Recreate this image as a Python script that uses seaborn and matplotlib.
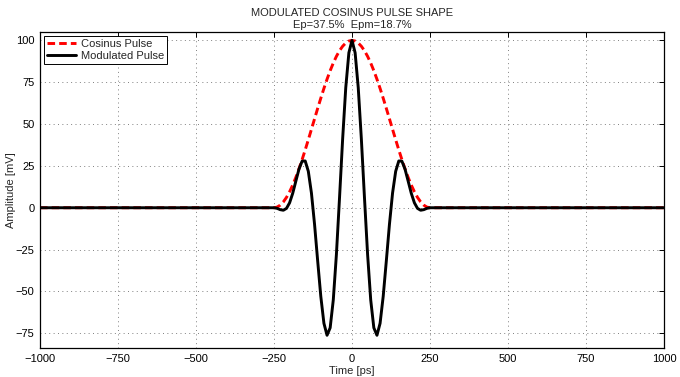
import matplotlib
matplotlib.use("Agg")
import matplotlib.pyplot as plt
import seaborn as sns
import pandas as pd

# Time axis [ps]
time_ps = [-1000, -250, -240, -230, -220, -210, -200, -190, -180, -170, -160,
           -150, -140, -130, -120, -110, -100, -90, -80, -70, -60,
           -50, -40, -30, -20, -10, 0, 10, 20, 30, 40,
           50, 60, 70, 80, 90, 100, 110, 120, 130, 140,
           150, 160, 170, 180, 190, 200, 210, 220, 230, 240, 250, 1000]

# Cosinus pulse amplitude [mV]
cosinus_pulse = [0, 0, 0.39, 1.57, 3.51, 6.18, 9.55, 13.55, 18.13, 23.21, 28.71,
                 34.55, 40.63, 46.86, 53.14, 59.37, 65.45, 71.29, 76.79, 81.87, 86.45,
                 90.45, 93.82, 96.49, 98.43, 99.61, 100, 99.61, 98.43, 96.49, 93.82,
                 90.45, 86.45, 81.87, 76.79, 71.29, 65.45, 59.37, 53.14, 46.86, 40.63,
                 34.55, 28.71, 23.21, 18.13, 13.55, 9.55, 6.18, 3.51, 1.57, 0.39, 0, 0]

# Modulated pulse amplitude [mV]
modulated_pulse = [0, 0, -0.37, -1.15, -1.49, -0.39, 2.95, 8.64, 15.89, 23.03, 27.81,
                   27.95, 21.77, 8.78, -9.96, -31.81, -52.95, -69.05, -76.19, -71.74, -55.10,
                   -27.95, 5.89, 41.08, 71.75, 92.61, 100, 92.61, 71.75, 41.08, 5.89,
                   -27.95, -55.10, -71.74, -76.19, -69.05, -52.95, -31.81, -9.96, 8.78, 21.77,
                   27.95, 27.81, 23.03, 15.89, 8.64, 2.95, -0.39, -1.49, -1.15, -0.37, 0, 0]

x_ticks = [-1000, -750, -500, -250, 0, 250, 500, 750, 1000]
y_ticks = [-75, -50, -25, 0, 25, 50, 75, 100]

title_text = "MODULATED COSINUS PULSE SHAPE\nEp=37.5%  Epm=18.7%"

sns.set_style("white")
plt.rcParams['font.family'] = ['Liberation Sans', 'DejaVu Sans']
plt.rcParams['font.size'] = 8

df = pd.DataFrame({"t": time_ps, "cos": cosinus_pulse, "mod": modulated_pulse})

fig = plt.figure(figsize=(6.8, 3.77), dpi=100)
ax = fig.add_axes([40 / 680, 1 - 348 / 377, 624 / 680, 316 / 377])

sns.lineplot(data=df, x="t", y="cos", ax=ax, color="#ff0000", lw=2.1,
             label="Cosinus Pulse", sort=False)
ax.lines[-1].set_dashes((2.6, 1.4))
sns.lineplot(data=df, x="t", y="mod", ax=ax, color="black", lw=2.1,
             label="Modulated Pulse", sort=False)

ax.set_xlim(-1000, 1000)
ax.set_ylim(-83.8, 105)
ax.set_xticks(x_ticks)
ax.set_yticks(y_ticks)
ax.set_xticklabels([str(v).replace("-", "\u2212") for v in x_ticks])
ax.set_yticklabels([str(v).replace("-", "\u2212") for v in y_ticks])

ax.grid(True, color="#808080", linestyle=(0, (1, 3.5)), linewidth=0.7)
ax.tick_params(direction="in", top=True, right=True, length=3.5, width=0.7,
               labelsize=8, pad=4, colors="black")
for s in ax.spines.values():
    s.set_visible(True)
    s.set_color("black")
    s.set_linewidth(0.9)

ax.set_xlabel("Time [ps]", fontsize=8, labelpad=2)
ax.set_ylabel("Amplitude [mV]", fontsize=8, labelpad=0)
ax.set_title(title_text, fontsize=8, pad=3, linespacing=1.2)

leg = ax.legend(loc="upper left", fontsize=8, frameon=True, fancybox=False,
                handlelength=2.6, borderpad=0.3, labelspacing=0.15,
                handletextpad=0.4, borderaxespad=0.35)
leg.get_frame().set_edgecolor("black")
leg.get_frame().set_linewidth(0.7)
leg.get_frame().set_alpha(1)
leg.get_lines()[0].set_dashes((2.6, 1.4))

fig.savefig("out.png", dpi=100)
